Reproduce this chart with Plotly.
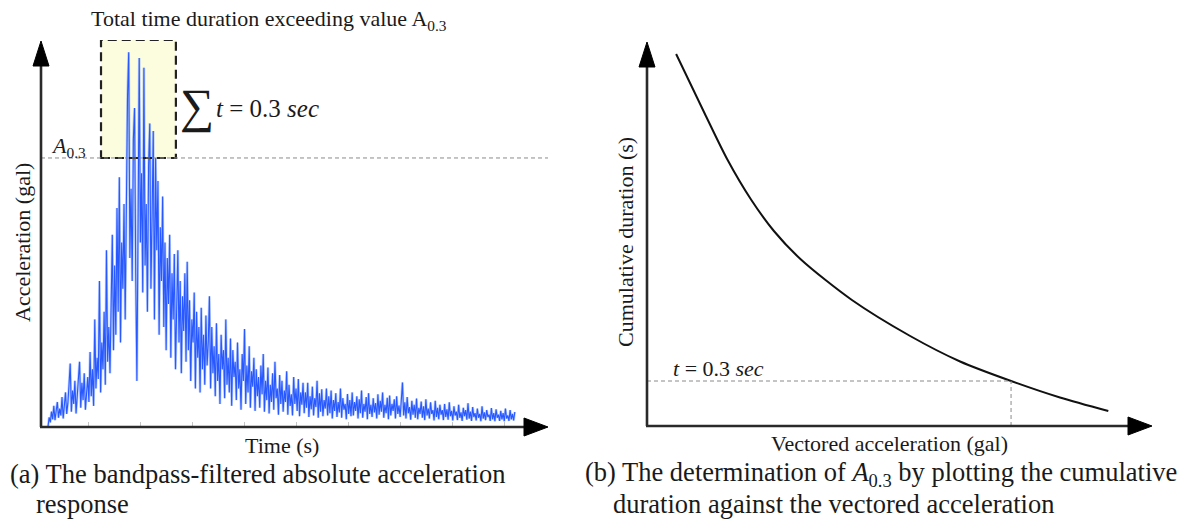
import plotly.graph_objects as go

W, H = 1189, 531

# ---------------- (a) absolute acceleration record ----------------
T0 = 2.3     # time of first sample (s)
DT = 0.225   # sample interval (s)
acc = [
    0.0, 2.5, 1.2, 4.0, 2.0, 5.5, 1.8, 3.6, 6.5, 2.4, 4.8, 3.0, 7.8, 2.2, 5.2, 9.0, 3.4, 6.2, 11.0, 16.5,
    4.0, 9.5, 6.0, 12.0, 3.5, 8.0, 10.5, 17.0, 5.0, 11.5, 7.0, 14.0, 4.5, 9.0, 13.0, 6.5, 19.5, 8.0, 15.0, 5.5,
    28.0, 10.0, 18.0, 12.5, 38.0, 9.0, 22.0, 15.0, 30.0, 11.0, 46.0, 17.0, 26.0, 14.0, 35.0, 50.0, 20.0, 42.0, 24.0, 57.0,
    30.0, 65.0, 22.0, 48.0, 36.0, 58.0, 28.0, 70.0, 86.0, 97.5, 44.0, 62.0, 38.0, 75.0, 83.0, 40.0, 12.0, 52.0, 96.0, 48.0,
    66.0, 35.0, 93.5, 42.0, 58.0, 30.0, 68.0, 79.0, 36.0, 55.0, 77.0, 28.0, 70.0, 46.0, 64.0, 24.0, 52.0, 38.0, 60.0, 26.0,
    48.0, 20.0, 44.0, 32.0, 50.0, 18.0, 40.0, 28.0, 45.0, 15.0, 36.0, 46.0, 22.0, 38.0, 14.0, 34.0, 25.0, 40.0, 17.0, 43.0,
    20.0, 33.0, 12.0, 28.0, 22.0, 35.0, 10.0, 30.0, 18.0, 26.0, 9.0, 31.0, 15.0, 24.0, 11.0, 29.0, 16.0, 22.0, 34.0, 10.0,
    26.0, 14.0, 21.0, 8.0, 27.0, 12.0, 19.0, 6.0, 24.0, 15.0, 20.0, 7.5, 28.0, 11.0, 18.0, 9.0, 23.0, 5.5, 20.0, 13.0,
    17.0, 7.0, 22.0, 10.0, 15.0, 4.5, 19.0, 12.0, 25.5, 6.0, 16.0, 9.0, 21.0, 5.0, 14.5, 10.5, 18.0, 4.2, 15.0, 8.0,
    13.0, 5.0, 16.0, 8.5, 19.0, 4.0, 12.0, 7.0, 15.5, 3.5, 11.0, 6.5, 14.0, 4.5, 17.0, 7.5, 10.0, 3.2, 13.5, 6.0,
    12.0, 4.0, 9.5, 6.5, 14.5, 3.2, 11.0, 5.5, 8.5, 3.0, 13.0, 6.0, 10.0, 4.2, 12.5, 2.8, 9.0, 5.8, 11.5, 3.6,
    9.0, 5.0, 11.5, 2.6, 8.0, 4.6, 10.5, 3.0, 7.5, 5.2, 12.0, 2.4, 8.8, 4.0, 9.8, 2.8, 7.0, 4.8, 10.0, 3.0,
    8.0, 3.6, 9.5, 2.2, 7.0, 4.2, 8.8, 2.6, 6.5, 3.8, 10.0, 2.4, 7.5, 4.5, 6.0, 2.0, 8.6, 3.4, 7.0, 2.8,
    9.0, 3.0, 6.5, 4.2, 8.0, 2.2, 7.2, 3.6, 9.5, 2.4, 6.0, 4.0, 7.8, 2.0, 8.8, 3.4, 5.8, 2.6, 7.5, 3.8,
    6.2, 2.2, 8.5, 3.2, 6.8, 4.0, 9.0, 2.4, 5.8, 3.6, 7.6, 2.0, 8.2, 3.0, 6.0, 4.2, 7.2, 2.2, 8.0, 3.4,
    5.6, 2.6, 7.0, 11.6, 3.0, 6.4, 2.2, 7.8, 3.6, 5.2, 1.9, 6.8, 3.2, 5.8, 2.4, 7.4, 2.0, 5.0, 3.4, 6.6,
    2.4, 5.4, 1.8, 7.2, 3.0, 4.8, 2.2, 6.4, 3.4, 4.4, 1.7, 6.8, 2.6, 5.0, 2.0, 5.8, 3.2, 4.4, 1.8, 6.0,
    2.6, 4.6, 1.9, 6.4, 2.8, 4.2, 1.7, 5.4, 3.0, 4.0, 1.8, 5.8, 2.4, 3.8, 1.6, 5.0, 2.8, 4.4, 1.9, 6.2,
    2.2, 4.0, 1.6, 5.2, 2.6, 3.6, 1.7, 4.8, 2.4, 3.4, 1.5, 5.4, 2.2, 3.8, 1.8, 4.4, 2.6, 3.2, 1.6, 4.9,
    2.0, 3.6, 1.5, 4.6, 2.4, 3.2, 1.6, 4.2, 2.0, 3.6, 1.5, 4.8, 2.2, 3.0, 1.6, 4.4, 2.0, 3.4, 1.7, 3.9,
]
time = [round(T0 + DT * i, 3) for i in range(len(acc))]

A03 = 70.0               # acceleration level exceeded for 0.3 s in total (gal)
box_t = [12.5, 26.9]     # time window holding the exceedances (s)

# ---------------- (b) cumulative duration vs vectored acceleration ----------------
vec_acc = [5.6, 11.0, 15.4, 20.0, 24.4, 29.6, 39.4, 50.6, 60.2, 70.0, 79.4, 88.7]
cum_dur = [2.48, 2.09, 1.78, 1.51, 1.30, 1.11, 0.84, 0.60, 0.43, 0.30, 0.19, 0.10]
t_target = 0.3

# axis ranges
XA = [0.96, 98.46]
YA = [0, 100.7]
XB = [0, 97.1]
YB = [0, 2.56]

SERIF = "Liberation Serif"
INK = "#1a1a1a"


def px(x):
    return x / W


def py(y):
    return 1 - y / H


fig = go.Figure()

# acceleration record: soft halo plus a denser core
fig.add_trace(go.Scatter(x=time, y=acc, mode="lines", xaxis="x", yaxis="y",
                         line=dict(color="rgba(95,140,255,0.42)", width=2.6),
                         hoverinfo="skip", showlegend=False))
fig.add_trace(go.Scatter(x=time, y=acc, mode="lines", xaxis="x", yaxis="y",
                         line=dict(color="rgb(40,88,255)", width=1.1),
                         hoverinfo="skip", showlegend=False))

# cumulative duration curve
fig.add_trace(go.Scatter(x=vec_acc, y=cum_dur, mode="lines", xaxis="x2", yaxis="y2",
                         line=dict(color="#111", width=2, shape="spline", smoothing=0.8),
                         hoverinfo="skip", showlegend=False))

shapes = []
# highlighted exceedance window (fill under the trace, dashed frame above it)
shapes.append(dict(type="rect", xref="x", yref="y", x0=box_t[0], x1=box_t[1],
                   y0=A03, y1=YA[1], fillcolor="rgb(252,252,222)",
                   line=dict(width=0), layer="below"))
shapes.append(dict(type="rect", xref="x", yref="y", x0=box_t[0], x1=box_t[1],
                   y0=A03, y1=YA[1], fillcolor="rgba(0,0,0,0)",
                   line=dict(color="#222", width=2.2, dash="9px,5px"), layer="above"))
# A0.3 threshold
shapes.append(dict(type="line", xref="x", yref="y", x0=XA[0], x1=XA[1], y0=A03, y1=A03,
                   line=dict(color="#8a8a8a", width=1, dash="4px,3px"), layer="above"))
# t = 0.3 s read-off lines
shapes.append(dict(type="line", xref="x2", yref="y2", x0=XB[0], x1=A03,
                   y0=t_target, y1=t_target,
                   line=dict(color="#8a8a8a", width=1, dash="4px,3px")))
shapes.append(dict(type="line", xref="x2", yref="y2", x0=A03, x1=A03,
                   y0=0, y1=t_target,
                   line=dict(color="#8a8a8a", width=1, dash="4px,3px")))


def axis_arrows(x0, y0, xtip, ytip):
    """Axis lines with filled arrowheads, given in pixel positions."""
    out = []
    out.append(dict(type="line", xref="paper", yref="paper",
                    x0=px(x0), y0=py(y0), x1=px(x0), y1=py(ytip + 22),
                    line=dict(color="#2a2a2a", width=2.6)))
    out.append(dict(type="line", xref="paper", yref="paper",
                    x0=px(x0 - 1), y0=py(y0), x1=px(xtip - 22), y1=py(y0),
                    line=dict(color="#2a2a2a", width=2.6)))
    out.append(dict(type="path", xref="paper", yref="paper",
                    path=f"M {px(x0-8)},{py(ytip+25)} L {px(x0+8)},{py(ytip+25)} L {px(x0)},{py(ytip)} Z",
                    fillcolor="#000", line=dict(color="#000", width=1)))
    out.append(dict(type="path", xref="paper", yref="paper",
                    path=f"M {px(xtip-24)},{py(y0-9)} L {px(xtip-24)},{py(y0+9)} L {px(xtip)},{py(y0)} Z",
                    fillcolor="#000", line=dict(color="#000", width=1)))
    return out


shapes += axis_arrows(41, 427, 548, 41)
shapes += axis_arrows(647, 426, 1152, 42)

ann = []


def text(x, y, s, size, xanchor="center", angle=0):
    ann.append(dict(x=px(x), y=py(y), xref="paper", yref="paper", text=s,
                    showarrow=False, xanchor=xanchor, yanchor="middle", textangle=angle,
                    font=dict(family=SERIF, size=size, color=INK)))


# panel (a) labels
text(269, 20, "Total time duration exceeding value A<sub>0.3</sub>", 22)
text(197, 106, "\u2211", 48)
text(214, 108, "<i>t</i> = 0.3 <i>sec</i>", 25, xanchor="left")
text(49, 147, "<i>A</i><sub>0.3</sub>", 22, xanchor="left")
text(22, 243, "Acceleration (gal)", 22, angle=-90)
text(282, 445, "Time (s)", 22)
text(8, 474, "(a) The bandpass-filtered absolute acceleration", 26.5, xanchor="left")
text(34, 504, "response", 26.5, xanchor="left")

# panel (b) labels
text(671, 368, "<i>t</i> = 0.3 <i>sec</i>", 22, xanchor="left")
text(625, 242, "Cumulative duration (s)", 22, angle=-90)
text(889, 443, "Vectored acceleration (gal)", 22)
text(583, 474, "(b) The determination of <i>A</i><sub>0.3</sub> by plotting the cumulative",
     26.5, xanchor="left")
text(611, 504, "duration against the vectored acceleration", 26.5, xanchor="left")

hidden = dict(showgrid=False, zeroline=False, showline=False, showticklabels=False,
              fixedrange=True)

fig.update_layout(
    width=W, height=H,
    margin=dict(l=0, r=0, t=0, b=0),
    paper_bgcolor="white", plot_bgcolor="white",
    showlegend=False,
    xaxis=dict(domain=[px(41), px(548)], range=XA, anchor="y",
               ticks="inside", tick0=10, dtick=10, ticklen=5, tickwidth=1,
               tickcolor="#c4c4c4", layer="below traces", **hidden),
    yaxis=dict(domain=[py(427), py(40)], range=YA, anchor="x", **hidden),
    xaxis2=dict(domain=[px(647), px(1152)], range=XB, anchor="y2", **hidden),
    yaxis2=dict(domain=[py(426), py(42)], range=YB, anchor="x2", **hidden),
    shapes=shapes,
    annotations=ann,
)

fig.write_html("out.html")
